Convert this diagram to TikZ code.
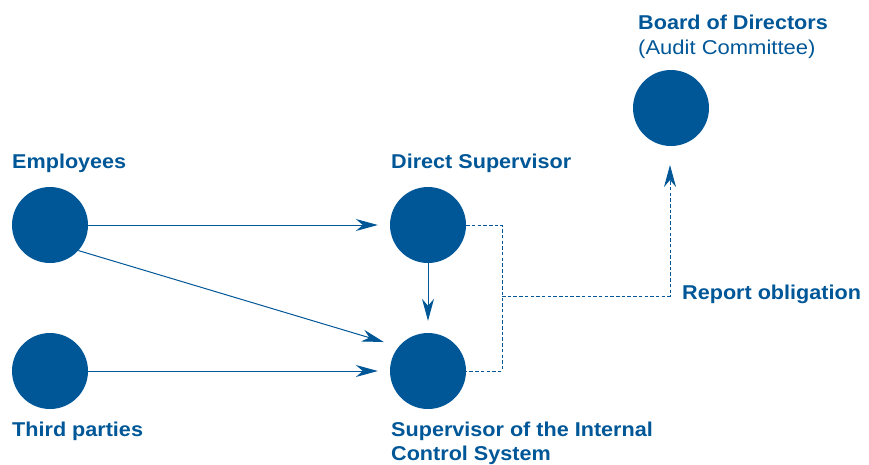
\documentclass[tikz,border=0pt]{standalone}
\usepackage{fontspec}
\setmainfont{Liberation Sans}[FakeStretch=1.08]
\newfontfamily\auditfont{Liberation Sans}[FakeStretch=1.1]
\usetikzlibrary{arrows.meta}
\definecolor{corpblue}{RGB}{0,87,152}
\begin{document}
\begin{tikzpicture}[x=1pt,y=-1pt,
  party/.style={circle,fill=corpblue,minimum size=76pt,inner sep=0pt},
  lbl/.style={anchor=base west,inner sep=0pt,text=corpblue,font=\bfseries\fontsize{20}{24}\selectfont},
  tip/.style={-{Stealth[length=22pt,width=12pt,inset=7pt]}},
  flow/.style={draw=corpblue,line width=1pt,tip},
  report/.style={draw=corpblue,line width=1pt,dash pattern=on 3.5pt off 2.2pt}]
\useasboundingbox (0,0) rectangle (869,464);
% participants
\node[party] (emp) at (50,225) {};
\node[party] (third) at (50,371) {};
\node[party] (dsup) at (428,225) {};
\node[party] (ics) at (428,371) {};
\node[party] (board) at (671,108) {};
% labels
\node[lbl] (lemp) at (12,168) {Employees};
\node[lbl] (lthird) at (12,436) {Third parties};
\node[lbl] (ldsup) at (391,168) {Direct Supervisor};
\node[lbl] (lics1) at (391,436) {Supervisor of the Internal};
\node[lbl] (lics2) at (391,460) {Control System};
\node[lbl] (lboard) at (638,29) {Board of Directors};
\node[lbl,font=\auditfont\fontsize{20}{24}\selectfont] (laudit) at (638,54) {(Audit Committee)};
\node[lbl] (lrep) at (682,299) {Report obligation};
% reporting channels
\draw[flow,shorten >=12pt] (emp.east) -- (dsup.west);
\draw[flow,shorten >=12pt] (third.east) -- (ics.west);
\draw[flow] (emp.-42) -- ([shift={(-6,-29)}]ics.west);
\draw[flow,shorten >=12pt] (dsup.south) -- (ics.north);
% report obligation to the board
\coordinate (jx) at (502,296);
\draw[report] (dsup.east) -- (502,225) -- (502,371) -- (ics.east);
\draw[report,tip] (jx) -- (670,296) -- (670,165);
\end{tikzpicture}
\end{document}
